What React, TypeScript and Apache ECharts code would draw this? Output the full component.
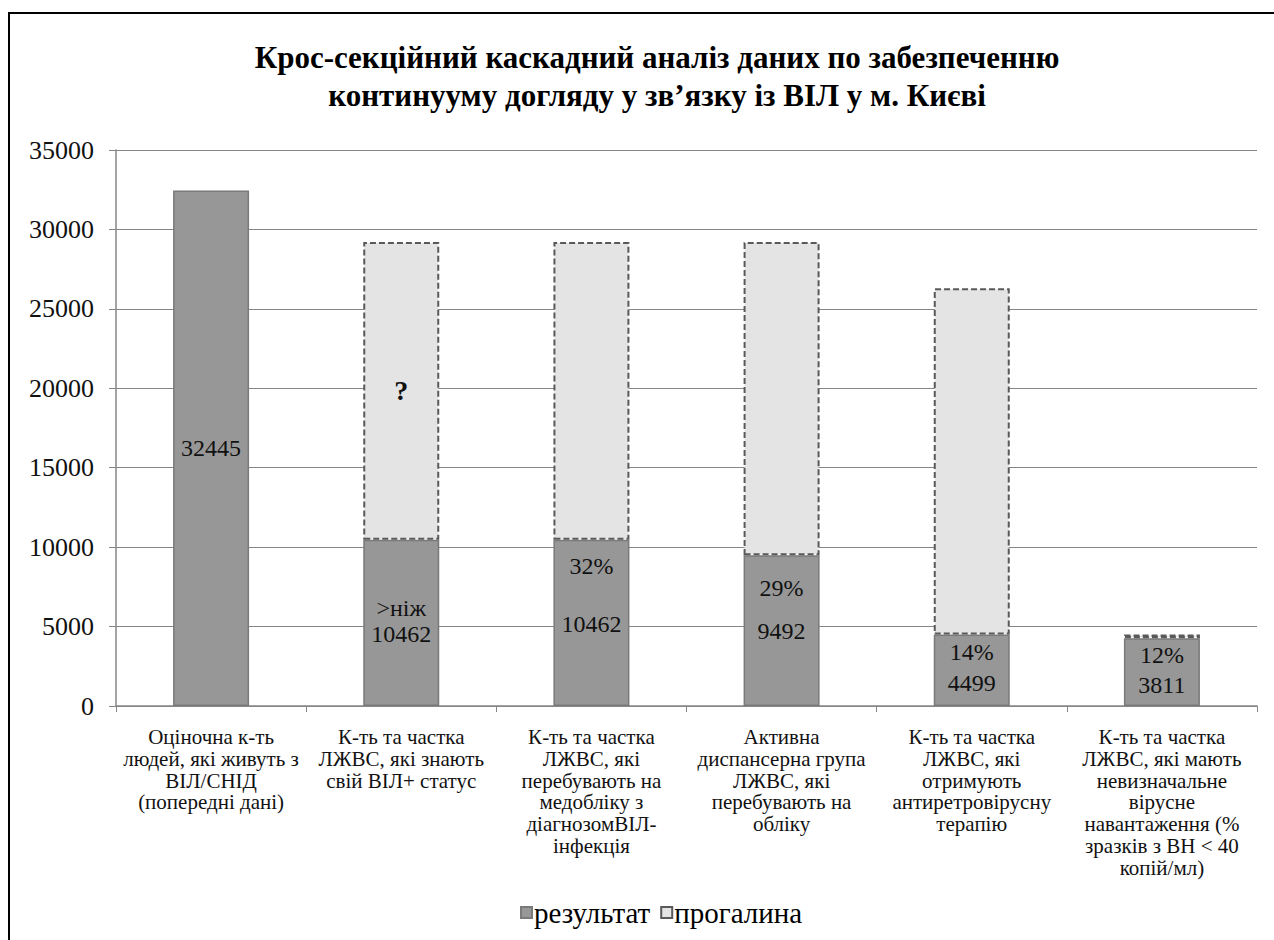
import React, { useEffect, useRef } from "react";
import * as echarts from "echarts";

const titleText =
  "Крос-секційний каскадний аналіз даних по забезпеченню\nконтинууму догляду у зв’язку із ВІЛ у м. Києві";

const categories = [
  "Оціночна к-ть\nлюдей, які живуть з\nВІЛ/СНІД\n(попередні дані)",
  "К-ть та частка\nЛЖВС, які знають\nсвій ВІЛ+ статус",
  "К-ть та частка\nЛЖВС, які\nперебувають на\nмедобліку з\nдіагнозомВІЛ-\nінфекція",
  "Активна\nдиспансерна група\nЛЖВС, які\nперебувають на\nобліку",
  "К-ть та частка\nЛЖВС, які\nотримують\nантиретровірусну\nтерапію",
  "К-ть та частка\nЛЖВС, які мають\nневизначальне\nвірусне\nнавантаження (%\nзразків з ВН < 40\nкопій/мл)",
];

const seriesNames = ["результат", "прогалина"];

const resultValues = [32445, 10462, 10462, 9492, 4499, 4270];
const gapValues: (number | null)[] = [null, 18740, 18740, 19710, 21800, 230];

const resultLabels = ["32445", ">ніж\n10462", "32%\n\n10462", "29%\n\n9492", "14%\n4499", "12%\n3811"];
const gapLabels = ["", "?", "", "", "", ""];

const yTicks = { min: 0, max: 35000, interval: 5000 };

// label layout (style only): vertical position inside the bar and line height
const resultLabelY = ["50%", "49%", "33%", "36%", "46%", "47%"];
const resultLabelLH = [24, 26, 29, 21.5, 31, 30];

const FONT = "Liberation Serif";

export default function App() {
  const ref = useRef<HTMLDivElement>(null);

  useEffect(() => {
    if (!ref.current) return;
    const chart = echarts.init(ref.current, null, { renderer: "svg" });

    const resultData = resultValues.map((v, i) => ({
      value: v,
      label: {
        show: true,
        formatter: resultLabels[i],
        position: ["50%", resultLabelY[i]],
        align: "center",
        verticalAlign: "middle",
        lineHeight: resultLabelLH[i],
        fontSize: 24,
        fontFamily: FONT,
        color: "#111",
      },
    }));

    const gapData = gapValues.map((v, i) => ({
      value: v === null ? "-" : v,
      label: {
        show: gapLabels[i] !== "",
        formatter: gapLabels[i],
        position: ["50%", "50%"],
        align: "center",
        verticalAlign: "middle",
        fontSize: 28,
        fontWeight: "bold",
        fontFamily: FONT,
        color: "#111",
      },
    }));

    chart.setOption({
      animation: false,
      backgroundColor: "#ffffff",
      textStyle: { fontFamily: FONT, color: "#000" },
      title: {
        text: titleText,
        left: 657,
        textAlign: "center",
        top: 38,
        padding: 0,
        textStyle: {
          fontFamily: FONT,
          fontSize: 31,
          fontWeight: "bold",
          color: "#000",
          lineHeight: 38,
        },
      },
      graphic: [
        {
          type: "polyline",
          shape: { points: [[9, 940], [9, 13], [1274, 13]] },
          style: { stroke: "#000", lineWidth: 2, fill: null },
          silent: true,
        },
      ],
      legend: {
        data: seriesNames,
        left: 515,
        top: 893,
        icon: "rect",
        itemWidth: 11,
        itemHeight: 11,
        itemGap: 10,
        textStyle: { fontFamily: FONT, fontSize: 29, color: "#000", padding: [0, 0, 0, -3] },
      },
      grid: { left: 116, right: 17, top: 150, bottom: 234, containLabel: false },
      xAxis: {
        type: "category",
        data: categories,
        axisLine: { show: true, lineStyle: { color: "#868686", width: 1.5 } },
        axisTick: { show: true, length: 6, lineStyle: { color: "#868686" } },
        axisLabel: {
          interval: 0,
          margin: 20,
          fontFamily: FONT,
          fontSize: 21,
          lineHeight: 21.8,
          color: "#111",
          verticalAlign: "top",
        },
      },
      yAxis: {
        type: "value",
        min: yTicks.min,
        max: yTicks.max,
        interval: yTicks.interval,
        axisLine: { show: true, lineStyle: { color: "#868686", width: 1.5 } },
        axisTick: { show: true, length: 7, lineStyle: { color: "#868686" } },
        splitLine: { show: true, lineStyle: { color: "#868686", width: 1.2 } },
        axisLabel: {
          fontFamily: FONT,
          fontSize: 26,
          color: "#111",
          margin: 22,
          formatter: (v: number) => String(v),
        },
      },
      series: [
        {
          name: seriesNames[0],
          type: "bar",
          stack: "total",
          barWidth: 76,
          itemStyle: { color: "#979797", borderColor: "#7a7a7a", borderWidth: 1.5 },
          data: resultData,
        },
        {
          name: seriesNames[1],
          type: "bar",
          stack: "total",
          barWidth: 76,
          itemStyle: {
            color: "#e4e4e4",
            borderColor: "#595959",
            borderWidth: 2,
            borderType: [6, 3],
          },
          data: gapData,
        },
      ],
    });

    return () => chart.dispose();
  }, []);

  return (
    <div
      ref={ref}
      style={{ position: "absolute", left: 0, top: 0, width: 1274, height: 940 }}
    />
  );
}
